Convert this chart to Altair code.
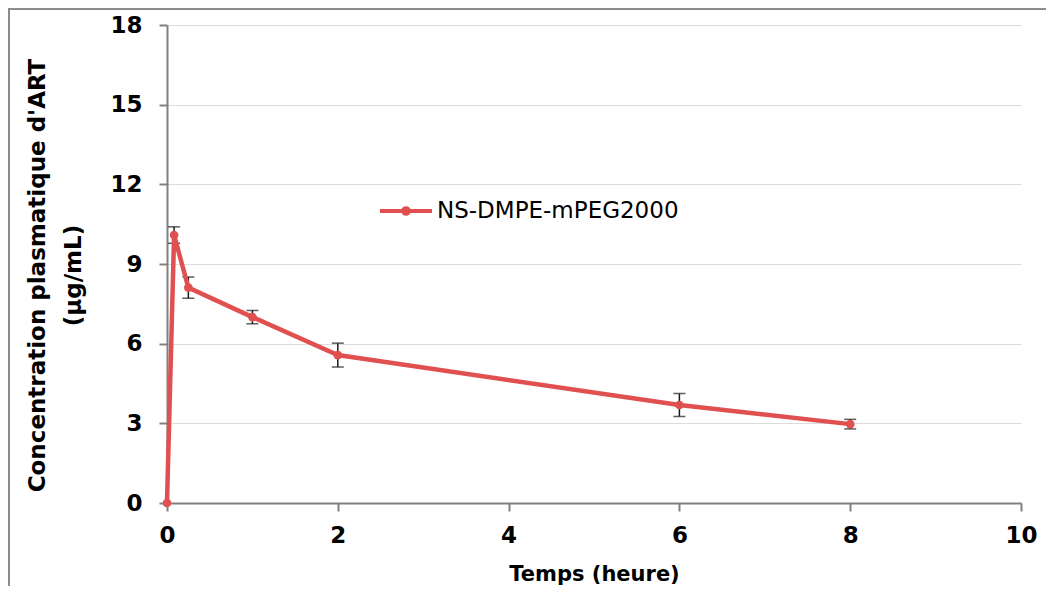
import altair as alt
import pandas as pd

# data
temps = [0, 0.083, 0.25, 1, 2, 6, 8]
conc = [0, 10.09, 8.11, 7.0, 5.57, 3.69, 2.97]
sd = [0, 0.31, 0.40, 0.25, 0.45, 0.43, 0.18]
serie = "NS-DMPE-mPEG2000"
x_ticks = [0, 2, 4, 6, 8, 10]
y_ticks = [0, 3, 6, 9, 12, 15, 18]

RED = "#E05050"
W, H = 854, 478
PL, PT, PR, PB = 159, 17, 25, 83

df = pd.DataFrame({
    "t": temps,
    "c": conc,
    "lo": [c - s for c, s in zip(conc, sd)],
    "hi": [c + s for c, s in zip(conc, sd)],
    "s": [serie] * len(temps),
})
err_df = df[df["t"] > 0]

xscale = alt.Scale(domain=[0, 10], nice=False, zero=False)
yscale = alt.Scale(domain=[0, 18], nice=False)

xaxis = alt.Axis(values=x_ticks, format="d", title="Temps (heure)", grid=False,
                 labelFontSize=23, labelPadding=13, labelFlush=False, titleFontSize=21,
                 titleY=77, titleBaseline="alphabetic")
yaxis = alt.Axis(values=y_ticks, format="d", title=["Concentration plasmatique d'ART", "(µg/mL)"],
                 grid=True, labelFontSize=23, labelPadding=17, labelFlush=False,
                 titleFontSize=23, titleLineHeight=36, titleAngle=-90,
                 titleX=-130, titleY=250, titleAlign="center", titleBaseline="middle")

err_rule = alt.Chart(err_df).mark_rule(color="#1a1a1a", strokeWidth=1.5).encode(
    x=alt.X("t:Q", scale=xscale, axis=xaxis),
    y=alt.Y("lo:Q", scale=yscale, axis=yaxis),
    y2="hi:Q",
)
err_cap_hi = alt.Chart(err_df).mark_tick(color="#1a1a1a", thickness=1.5, size=12, orient="horizontal").encode(
    x=alt.X("t:Q", scale=xscale), y=alt.Y("hi:Q", scale=yscale))
err_cap_lo = alt.Chart(err_df).mark_tick(color="#1a1a1a", thickness=1.5, size=12, orient="horizontal").encode(
    x=alt.X("t:Q", scale=xscale), y=alt.Y("lo:Q", scale=yscale))

legend = alt.Legend(
    title=None, orient="none", legendX=211, legendY=158, padding=0, offset=0,
    symbolType="M-1,0L1,0M-0.11,0A0.11,0.11,0,1,0,0.11,0A0.11,0.11,0,1,0,-0.11,0Z",
    symbolSize=2704, symbolStrokeWidth=4, symbolFillColor=RED, symbolStrokeColor=RED,
    labelFont="DejaVu Sans", labelFontSize=23, labelFontWeight="normal",
    labelColor="#000000", labelOffset=3, labelLimit=0,
)

line = alt.Chart(df).mark_line(strokeWidth=4.5, point=alt.OverlayMarkDef(size=75, filled=True, opacity=1)).encode(
    x=alt.X("t:Q", scale=xscale),
    y=alt.Y("c:Q", scale=yscale),
    color=alt.Color("s:N", scale=alt.Scale(range=[RED]), legend=legend),
)

frame_df = pd.DataFrame({"a": [0]})
frame_top = alt.Chart(frame_df).mark_rule(color="#8c8c8c", strokeWidth=2).encode(
    x=alt.value(-PL), x2=alt.value(W + PR), y=alt.value(-PT + 1))
frame_left = alt.Chart(frame_df).mark_rule(color="#8c8c8c", strokeWidth=2).encode(
    x=alt.value(-PL + 1), y=alt.value(-PT), y2=alt.value(H + PB))

chart = alt.layer(err_rule, err_cap_hi, err_cap_lo, line, frame_top, frame_left).properties(
    width=W, height=H,
    autosize=alt.AutoSizeParams(type="none"),
    padding={"left": PL, "top": PT, "right": PR, "bottom": PB},
).configure_view(stroke=None).configure_axis(
    labelFont="DejaVu Sans", labelFontWeight="bold", labelColor="#000000",
    titleFont="DejaVu Sans", titleFontWeight="bold", titleColor="#000000",
    domainColor="#808080", domainWidth=2, tickColor="#808080", tickWidth=2, tickSize=8,
    gridColor="#dcdcdc", gridWidth=1,
).configure_axisY(labelAlign="right", labelBaseline="middle")

chart.save("out.html", embed_options={"renderer": "svg", "actions": False})
